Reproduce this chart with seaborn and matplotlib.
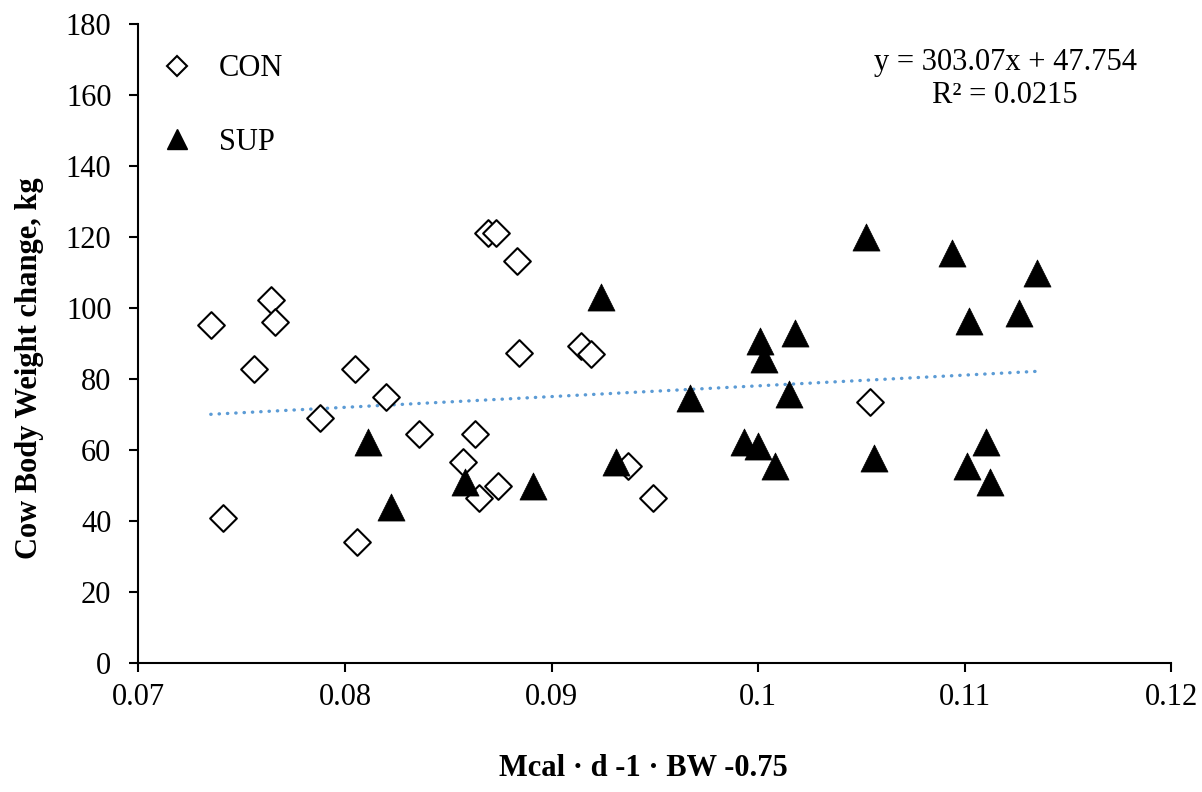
import matplotlib
matplotlib.use('Agg')
import matplotlib.pyplot as plt
from matplotlib.lines import Line2D
import seaborn as sns
import numpy as np
import pandas as pd

# CON group (open diamonds)
con_x = [0.0735, 0.0764, 0.0766, 0.0756, 0.0741, 0.0805, 0.0820, 0.0788, 0.0806,
         0.0836, 0.0863, 0.0857, 0.0865, 0.0874, 0.0869, 0.0873, 0.0883, 0.0884,
         0.0914, 0.0919, 0.0937, 0.0949, 0.1054]
con_y = [95.1, 102.4, 96.2, 82.7, 40.7, 82.7, 74.8, 69.0, 34.0,
         64.6, 64.6, 56.7, 46.3, 49.9, 121.2, 121.2, 113.3, 87.2,
         89.4, 87.1, 55.5, 46.5, 73.6]

# SUP group (filled triangles)
sup_x = [0.0811, 0.0822, 0.0858, 0.0891, 0.0924, 0.0931, 0.0967, 0.1001, 0.1003,
         0.0993, 0.1000, 0.1008, 0.1018, 0.1015, 0.1052, 0.1094, 0.1135, 0.1102,
         0.1126, 0.1056, 0.1110, 0.1101, 0.1112]
sup_y = [62.2, 44.0, 50.9, 49.9, 103.1, 56.7, 74.7, 90.7, 85.7,
         62.2, 61.1, 55.5, 92.9, 75.8, 120.0, 115.5, 109.9, 96.3,
         98.6, 57.8, 62.2, 55.5, 50.9]

# trend line from the chart's equation
slope = 303.07
intercept = 47.754
r2 = 0.0215

df = pd.DataFrame({
    'x': con_x + sup_x,
    'y': con_y + sup_y,
    'group': ['CON'] * len(con_x) + ['SUP'] * len(sup_x),
})

sns.set_style('white')
plt.rcParams['font.family'] = ['Liberation Serif', 'DejaVu Serif']
plt.rcParams['text.color'] = 'black'
plt.rcParams['axes.labelcolor'] = 'black'

fig, ax = plt.subplots(figsize=(12.02, 7.92), dpi=100)
fig.subplots_adjust(left=0.1152, right=0.9746, top=0.9693, bottom=0.1633)

sns.scatterplot(data=df[df['group'] == 'CON'], x='x', y='y', marker='D', s=185,
                facecolor='white', edgecolor='black', linewidth=1.5, ax=ax, zorder=3)
sns.scatterplot(data=df[df['group'] == 'SUP'], x='x', y='y', marker='^', s=380,
                color='black', edgecolor='black', linewidth=0.5, ax=ax, zorder=3)

xs = np.array([df['x'].min(), df['x'].max()])
ax.plot(xs, slope * xs + intercept, color='#5B9BD5', linewidth=2.4,
        linestyle=(0, (0.1, 2.4)), dash_capstyle='round', zorder=2)

ax.set_xlim(0.07, 0.12)
ax.set_ylim(0, 180)
ax.set_xticks([0.07, 0.08, 0.09, 0.1, 0.11, 0.12])
ax.set_xticklabels(['0.07', '0.08', '0.09', '0.1', '0.11', '0.12'])
ax.set_yticks(range(0, 181, 20))

sns.despine(ax=ax)
for sp in ['left', 'bottom']:
    ax.spines[sp].set_color('black')
    ax.spines[sp].set_linewidth(1.5)
ax.tick_params(axis='both', direction='out', length=6.5, width=1.5, colors='black',
               labelcolor='black', labelsize=22)
ax.tick_params(axis='y', pad=13, left=True)
ax.tick_params(axis='x', pad=8, bottom=True)

ax.set_xlabel('Mcal · d -1 · BW -0.75', fontsize=22, fontweight='bold')
ax.set_ylabel('Cow Body Weight change, kg', fontsize=22, fontweight='bold')
ax.xaxis.set_label_coords(0.489, -0.143)
ax.yaxis.set_label_coords(-0.0915, 0.462)

handles = [
    Line2D([], [], marker='D', linestyle='none', markersize=9.7, markerfacecolor='white',
           markeredgecolor='black', markeredgewidth=1.5, label='CON'),
    Line2D([], [], marker='^', linestyle='none', markersize=14.4, markerfacecolor='black',
           markeredgecolor='black', label='SUP'),
]
ax.legend(handles=handles, loc='upper left', bbox_to_anchor=(0.0076, 0.972),
          borderaxespad=0, frameon=False, fontsize=22, labelspacing=1.45,
          handletextpad=0.77, handlelength=1.2)

ax.text(0.839, 0.914, f'y = {slope}x + {intercept}\nR² = {r2}', transform=ax.transAxes,
        ha='center', va='center', fontsize=22, linespacing=1.18)

fig.savefig('out.png', dpi=100)
